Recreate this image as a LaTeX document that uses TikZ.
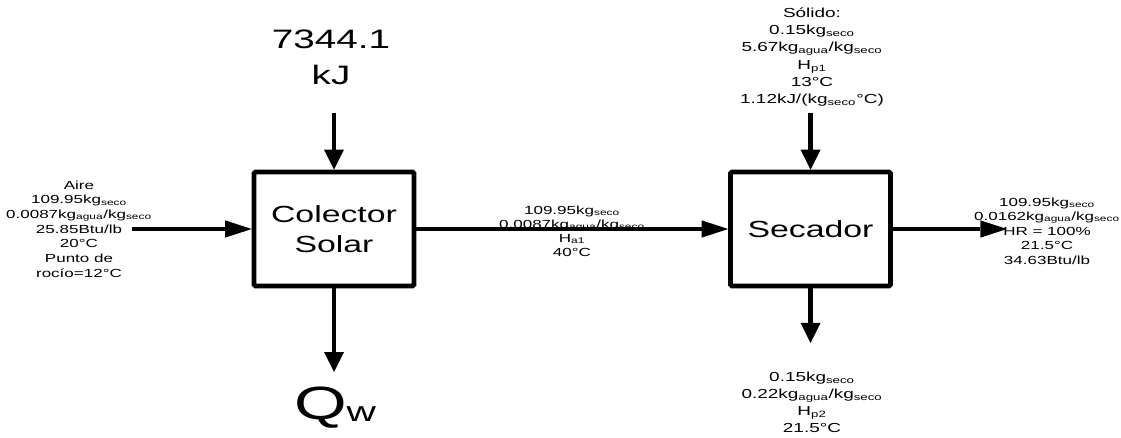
\documentclass[tikz,border=0pt]{standalone}
\usepackage{fontspec}
\setmainfont{Liberation Sans}[FakeStretch=1.45]
\usepackage{tikz}
\usetikzlibrary{arrows.meta}
\definecolor{ink}{HTML}{000000}
\newcommand{\low}[1]{\textsubscript{#1}}
\tikzset{
  unit/.style={draw=ink,line width=3.4pt,rounded corners=1pt,minimum width=120pt,
    minimum height=85.5pt,align=center,inner sep=0pt,font=\fontsize{17.5}{22}\selectfont},
  stream/.style={align=center,inner sep=0pt,font=\fontsize{8.8}{11}\selectfont},
  harrow/.style={draw=ink,line width=3.5pt,-{Triangle[length=20pt,width=13pt,line width=0pt]}},
  varrow/.style={draw=ink,line width=3.5pt,-{Triangle[length=15pt,width=15pt,line width=0pt]}},
}

\begin{document}
\begin{tikzpicture}[x=0.75pt,y=-0.75pt]
  \useasboundingbox (0,0) rectangle (1121,438);
  % equipos
  \node[unit] (col) at (334,229) {Colector\\Solar};
  \node[unit] (sec) at (810.5,229) {Secador};
  % corrientes
  \node[stream] (aire) at (79,229)
    {Aire\\109.95kg\low{seco}\\0.0087kg\low{agua}/kg\low{seco}\\25.85Btu/lb\\20°C\\Punto de\\rocío=12°C};
  \node[stream,font=\fontsize{8.8}{10.5}\selectfont] (acal) at (572,231)
    {109.95kg\low{seco}\\0.0087kg\low{agua}/kg\low{seco}\\H\low{a1}\\40°C};
  \node[stream,font=\fontsize{8.8}{10.9}\selectfont] (asal) at (1047,231)
    {109.95kg\low{seco}\\0.0162kg\low{agua}/kg\low{seco}\\HR = 100\%\\21.5°C\\34.63Btu/lb};
  \node[stream,font=\fontsize{9.8}{13}\selectfont] (solin) at (812,57)
    {Sólido:\\0.15kg\low{seco}\\5.67kg\low{agua}/kg\low{seco}\\H\low{p1}\\13°C\\1.12kJ/(kg\low{seco}°C)};
  \node[stream,font=\fontsize{9.8}{12.8}\selectfont] (solout) at (812,402)
    {0.15kg\low{seco}\\0.22kg\low{agua}/kg\low{seco}\\H\low{p2}\\21.5°C};
  \node[stream,font=\fontsize{20}{27}\selectfont] (qsol) at (331,57) {7344.1\\kJ};
  \node[anchor=base,inner sep=0pt,font=\fontsize{35}{40}\selectfont] (qw) at (335,419)
    {Q\raisebox{-2pt}{\fontsize{21}{21}\selectfont w}};
  % extremos libres
  \coordinate (ain) at (132,229);
  \coordinate (aout) at (1007,229);
  \coordinate (qtop) at (334,113);
  \coordinate (qbot) at (334,372);
  \coordinate (stop) at (810.5,113);
  \coordinate (sbot) at (810.5,343);
  % flechas
  \draw[harrow] (ain) -- (col.west);
  \draw[harrow,line width=3pt] (col.east) -- (sec.west);
  \draw[harrow] (sec.east) -- (aout);
  \draw[varrow] (qtop) -- (col.north);
  \draw[varrow] (col.south) -- (qbot);
  \draw[varrow] (stop) -- (sec.north);
  \draw[varrow] (sec.south) -- (sbot);
\end{tikzpicture}
\end{document}
